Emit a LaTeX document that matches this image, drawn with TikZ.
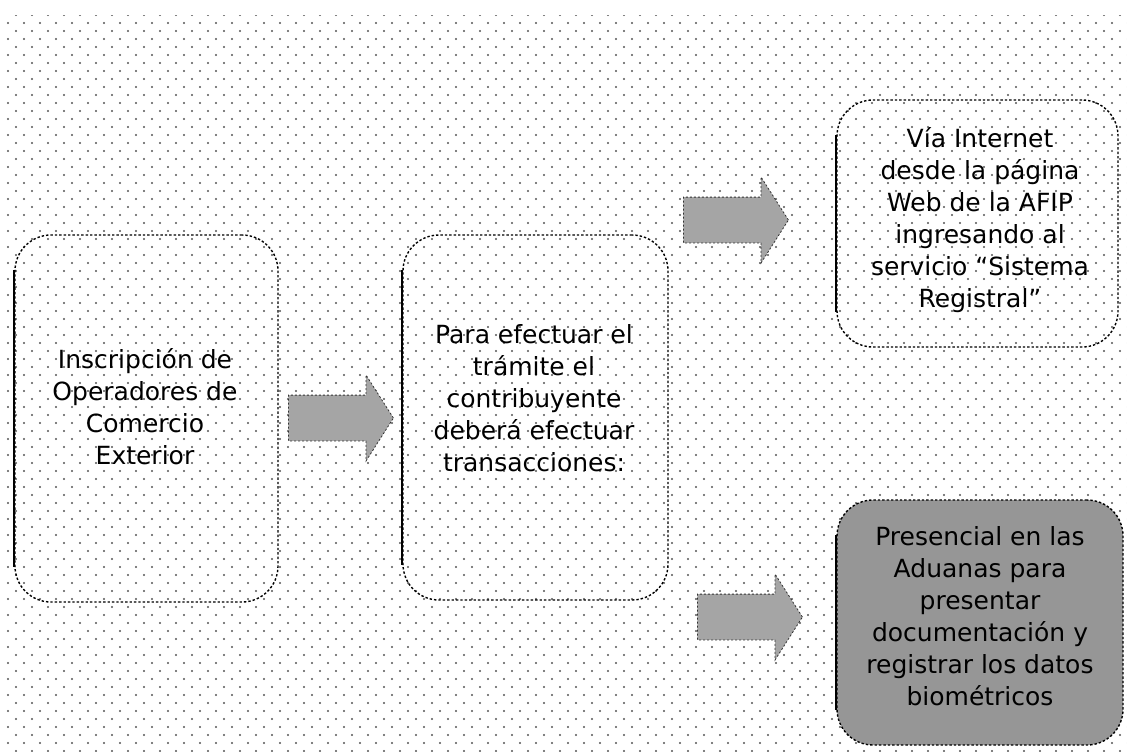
\documentclass[tikz,border=0pt]{standalone}
\usepackage{fontspec}
\setmainfont{DejaVu Sans}
\usepackage{xcolor}
\usetikzlibrary{shapes.arrows,patterns}
\definecolor{dotgray}{RGB}{85,85,85}
\definecolor{arrowfill}{RGB}{165,165,165}
\definecolor{darkfill}{RGB}{150,150,150}
\pgfdeclarepatternformonly{paperdots}{\pgfqpoint{-1pt}{-1pt}}{\pgfqpoint{9pt}{9pt}}{\pgfqpoint{8pt}{8pt}}{%
  \pgfpathcircle{\pgfqpoint{0pt}{0pt}}{.55pt}%
  \pgfpathcircle{\pgfqpoint{4pt}{4pt}}{.55pt}%
  \pgfusepath{fill}}
\tikzstyle{box}=[rounded corners=18pt, draw=black, dash pattern=on 1.2pt off 1pt, line width=.7pt]
\tikzstyle{boxtext}=[align=center, font=\fontsize{12.5}{16}\selectfont]
\tikzstyle{blockarrow}=[single arrow, anchor=tail, minimum height=52.5pt, inner ysep=11.25pt, inner xsep=0pt,
  single arrow head extend=10pt, single arrow tip angle=115, fill=arrowfill, draw=black!80, dash pattern=on 1pt off 1pt]
\tikzstyle{leftedge}=[line width=1.1pt, black, solid]
\tikzset{x=.5pt}
\tikzset{y=-.5pt}
\begin{document}
\begin{tikzpicture}
  \useasboundingbox (0,0) rectangle (1127,751);
  \fill[pattern=paperdots, pattern color=dotgray] (4,15) rectangle (1127,751);

  %% Boxes
  \draw (146.5,418.5) node[box,minimum width=131.5pt,minimum height=183.5pt] (inscripcion) {};
  \draw (535.5,417.5) node[box,minimum width=132.5pt,minimum height=182.5pt] (tramite) {};
  \draw (977.5,223.5) node[box,minimum width=140.5pt,minimum height=123.5pt] (internet) {};
  \draw (980,622.5) node[box,fill=darkfill,minimum width=143pt,minimum height=122.5pt] (presencial) {};
  \foreach \b in {inscripcion,tramite,internet,presencial}
    \draw[leftedge] ([yshift=-18pt]\b.north west) -- ([yshift=18pt]\b.south west);

  %% Texts
  \draw (145,407) node[boxtext] (inscripcionText) {Inscripción de\\Operadores de\\Comercio\\Exterior};
  \draw (534,398) node[boxtext] (tramiteText) {Para efectuar el\\trámite el\\contribuyente\\deberá efectuar\\transacciones:};
  \draw (980,220) node[boxtext] (internetText) {Vía Internet\\desde la página\\Web de la AFIP\\ingresando al\\servicio “Sistema\\Registral”};
  \draw (980,616) node[boxtext] (presencialText) {Presencial en las\\Aduanas para\\presentar\\documentación y\\registrar los datos\\biométricos};

  %% Arrows
  \draw (288,418) node[blockarrow] (toTramite) {};
  \draw (683,220) node[blockarrow] (toInternet) {};
  \draw (697,617) node[blockarrow] (toPresencial) {};
\end{tikzpicture}
\end{document}
